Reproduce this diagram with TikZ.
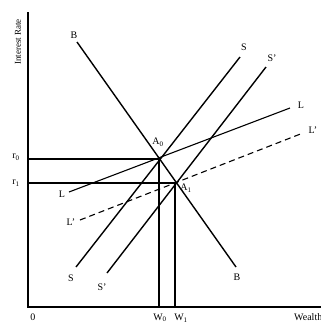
\documentclass[tikz,border=0pt]{standalone}
\usepackage{fontspec}
\setmainfont{Liberation Serif}
\begin{document}
\begin{tikzpicture}[x=1pt,y=-1pt,
  ln/.style={line width=1.4pt,black},
  ax/.style={line width=1.4pt,black},
  guide/.style={line width=1.2pt,black},
  lbl/.style={font=\fontsize{10}{11}\selectfont,inner sep=0pt}]
\useasboundingbox (0,0) rectangle (321,322);
\fill[white] (0,0) rectangle (321,322);
% axes
\coordinate (top) at (28,12);
\coordinate (O) at (28,307);
\coordinate (xend) at (330,307);
\draw[ax] (top) -- (O) -- (xend);
\node[lbl,rotate=90,font=\fontsize{9}{10}\selectfont] (ylab) at (18,42) {Interest Rate};
% intersection points
\coordinate (A0) at (159,159);
\coordinate (A1) at (175,183);
\coordinate (r0p) at (28,159);
\coordinate (r1p) at (28,183);
\coordinate (w0p) at (159,307);
\coordinate (w1p) at (175,307);
\draw[guide] (r0p) -- (A0) -- (w0p);
\draw[guide] (r1p) -- (A1) -- (w1p);
% B line
\coordinate (Bt) at (77,42);
\coordinate (Bb) at (236,267);
\draw[ln] (Bt) -- (Bb);
\node[lbl] (Btl) at (74,35) {B};
\node[lbl] (Bbl) at (237,277) {B};
% S line
\coordinate (St) at (240,57);
\coordinate (Sb) at (76,267);
\draw[ln] (Sb) -- (St);
\node[lbl] (Stl) at (244,47) {S};
\node[lbl] (Sbl) at (71,278) {S};
% S' line
\coordinate (Spt) at (266,67);
\coordinate (Spb) at (107,273);
\draw[ln] (Spb) -- (Spt);
\node[lbl] (Sptl) at (272,58) {S'};
\node[lbl] (Spbl) at (102,287) {S'};
% L line
\coordinate (Ll) at (69,192);
\coordinate (Lr) at (290,108);
\draw[line width=1.1pt] (Ll) -- (Lr);
\node[lbl] (Lrl) at (301,105) {L};
\node[lbl] (Lll) at (62,194) {L};
% L' dashed
\coordinate (Lpl) at (80,220);
\coordinate (Lpr) at (303,133);
\draw[line width=1.1pt,dash pattern=on 6pt off 4pt] (Lpl) -- (Lpr);
\node[lbl] (Lprl) at (313,130) {L'};
\node[lbl] (Lpll) at (71,222) {L'};
% point labels
\node[lbl] (A0l) at (158,142) {A\textsubscript{0}};
\node[lbl] (A1l) at (186,188) {A\textsubscript{1}};
\node[lbl] (r0l) at (16,157) {r\textsubscript{0}};
\node[lbl] (r1l) at (16,183) {r\textsubscript{1}};
\node[lbl] (zl) at (33,317) {0};
\node[lbl] (w0l) at (160,318) {W\textsubscript{0}};
\node[lbl] (w1l) at (181,318) {W\textsubscript{1}};
\node[lbl,anchor=west] (wl) at (294,317) {Wealth};
\end{tikzpicture}
\end{document}
